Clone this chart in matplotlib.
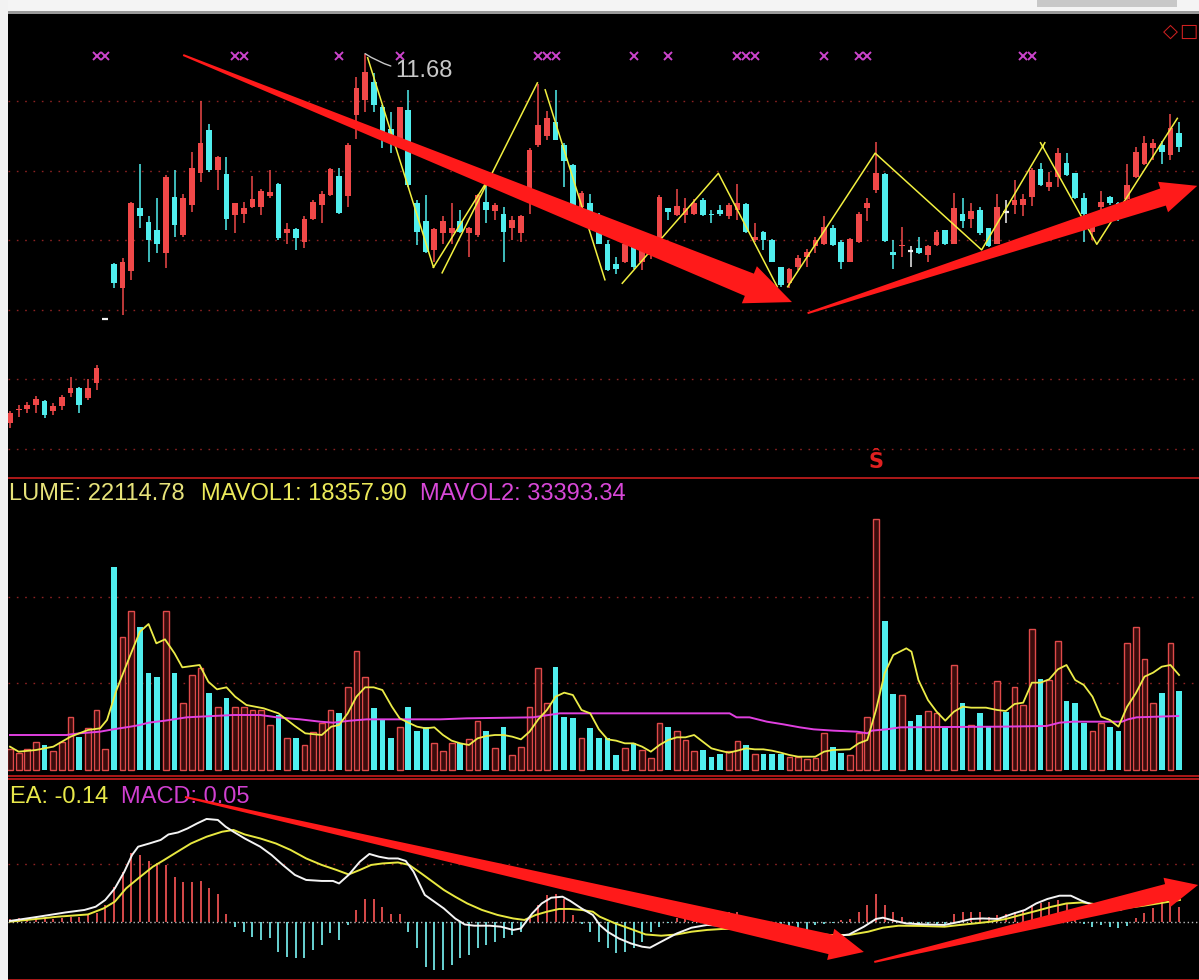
import numpy as np
import matplotlib
matplotlib.use("Agg")
import matplotlib.pyplot as plt
from matplotlib.patches import Polygon, Rectangle
from matplotlib.transforms import IdentityTransform, blended_transform_factory

W, H = 1199, 980

# ---------------- data ----------------
opens = [6.37, 6.56, 6.58, 6.63, 6.69, 6.54, 6.61, 6.80, 6.87, 6.73,
         6.94, 7.86, 8.66, 8.31, 8.55, 9.46, 9.26, 9.14, 8.81, 9.62,
         9.07, 9.50, 9.96, 10.58, 10.01, 9.95, 9.36, 9.38, 9.48, 9.48,
         9.63, 9.81, 9.10, 9.16, 8.98, 9.31, 9.50, 9.65, 9.92, 9.63,
         10.80, 11.01, 11.27, 10.91, 10.60, 10.44, 10.87, 9.54, 9.27, 8.86,
         9.10, 9.10, 9.27, 9.10, 9.07, 9.55, 9.42, 9.38, 9.17, 9.10,
         9.53, 10.37, 10.49, 10.70, 10.37, 10.08, 9.48, 9.53, 9.34, 8.94,
         8.66, 8.69, 8.91, 8.69, 8.79, 9.03, 9.46, 9.36, 9.36, 9.38,
         9.58, 9.38, 9.44, 9.34, 9.43, 9.52, 9.00, 9.12, 9.00, 8.61,
         8.38, 8.61, 8.76, 8.91, 8.95, 9.17, 8.98, 8.69, 8.98, 9.46,
         9.72, 9.95, 8.83, 8.91, 8.85, 8.88, 8.79, 8.93, 9.14, 8.95,
         9.38, 9.31, 9.43, 9.17, 8.95, 9.40, 9.50, 9.50, 9.62, 10.02,
         9.77, 9.91, 10.11, 9.96, 9.60, 9.12, 9.48, 9.62, 9.53, 9.59,
         9.91, 10.10, 10.32, 10.37, 10.22, 10.54]
highs = [6.54, 6.63, 6.68, 6.76, 6.70, 6.66, 6.77, 7.04, 6.89, 7.01,
         7.21, 7.86, 8.67, 8.74, 9.55, 10.09, 9.34, 9.60, 9.94, 10.01,
         9.67, 10.27, 11.00, 10.67, 10.21, 10.19, 9.54, 9.55, 9.92, 9.74,
         10.01, 9.82, 9.25, 9.18, 9.35, 9.58, 9.70, 10.04, 10.04, 10.39,
         11.35, 11.68, 11.40, 10.94, 10.84, 10.92, 11.16, 9.58, 9.65, 9.17,
         9.34, 9.53, 9.43, 9.19, 9.67, 9.79, 9.54, 9.48, 9.34, 9.36,
         10.32, 11.25, 10.85, 11.16, 10.39, 10.10, 9.70, 9.66, 9.39, 9.00,
         8.76, 8.98, 8.92, 8.87, 8.91, 9.65, 9.46, 9.74, 9.60, 9.59,
         9.60, 9.43, 9.50, 9.53, 9.81, 9.53, 9.24, 9.13, 9.02, 8.62,
         8.60, 8.79, 8.87, 9.05, 9.35, 9.22, 9.00, 9.03, 9.41, 9.60,
         10.41, 9.96, 9.00, 9.19, 8.91, 9.05, 8.93, 9.14, 9.15, 9.68,
         9.60, 9.54, 9.48, 9.18, 9.66, 9.57, 9.86, 9.66, 10.03, 10.11,
         9.98, 10.32, 10.25, 9.97, 9.68, 9.27, 9.70, 9.63, 9.55, 10.09,
         10.34, 10.49, 10.46, 10.43, 10.81, 10.70]
lows = [6.30, 6.46, 6.51, 6.51, 6.44, 6.49, 6.56, 6.75, 6.51, 6.70,
        6.85, 7.86, 8.31, 7.92, 8.43, 9.17, 8.69, 8.81, 8.60, 9.05,
        9.05, 9.41, 9.84, 9.98, 9.72, 9.15, 9.10, 9.24, 9.46, 9.36,
        9.60, 9.00, 8.95, 8.86, 8.88, 9.29, 9.24, 9.63, 9.38, 9.48,
        10.45, 10.84, 10.84, 10.32, 10.25, 10.34, 9.77, 8.93, 8.81, 8.69,
        8.95, 8.95, 9.10, 8.76, 9.05, 9.24, 9.29, 8.69, 9.00, 8.98,
        9.38, 10.34, 10.44, 10.44, 9.77, 9.46, 9.43, 9.35, 8.94, 8.55,
        8.52, 8.67, 8.59, 8.57, 8.73, 9.00, 9.29, 9.34, 9.24, 9.36,
        9.35, 9.24, 9.34, 9.31, 9.29, 9.10, 8.98, 8.86, 8.68, 8.33,
        8.31, 8.57, 8.62, 8.81, 8.93, 8.91, 8.59, 8.68, 8.96, 9.27,
        9.68, 8.98, 8.59, 8.76, 8.62, 8.80, 8.69, 8.91, 8.93, 8.94,
        9.17, 9.17, 9.08, 8.90, 8.94, 9.24, 9.38, 9.34, 9.49, 9.78,
        9.70, 9.77, 9.92, 9.59, 8.98, 9.00, 9.43, 9.50, 9.27, 9.58,
        9.89, 10.08, 10.15, 10.09, 10.15, 10.27]
closes = [6.52, 6.58, 6.63, 6.72, 6.49, 6.61, 6.75, 6.87, 6.63, 6.87,
          7.16, 7.86, 8.38, 8.69, 9.54, 9.34, 9.00, 8.95, 9.91, 9.22,
          9.60, 10.03, 10.40, 10.01, 10.19, 9.31, 9.53, 9.46, 9.59, 9.70,
          9.69, 9.03, 9.16, 9.03, 9.31, 9.55, 9.67, 10.02, 9.39, 10.37,
          11.18, 11.42, 10.94, 10.54, 10.40, 10.91, 9.79, 9.11, 8.83, 9.16,
          9.27, 9.17, 9.12, 9.17, 9.65, 9.43, 9.50, 9.12, 9.29, 9.35,
          10.29, 10.65, 10.75, 10.44, 10.13, 9.48, 9.68, 9.36, 8.95, 8.57,
          8.59, 8.95, 8.62, 8.86, 8.88, 9.62, 9.41, 9.49, 9.46, 9.54,
          9.36, 9.36, 9.38, 9.50, 9.54, 9.11, 9.05, 9.00, 8.69, 8.36,
          8.59, 8.74, 8.83, 9.00, 9.19, 8.93, 8.69, 9.01, 9.38, 9.53,
          9.96, 8.99, 8.79, 8.93, 8.85, 8.81, 8.91, 9.12, 8.94, 9.46,
          9.27, 9.42, 9.10, 8.91, 9.48, 9.40, 9.58, 9.59, 10.01, 9.79,
          9.84, 10.25, 9.94, 9.60, 9.38, 9.22, 9.55, 9.53, 9.48, 9.79,
          10.27, 10.39, 10.39, 10.27, 10.61, 10.34]
volumes = [12400, 10000, 12400, 17000, 15000, 11600, 17000, 32000, 20000, 25000,
           36000, 12400, 122000, 80000, 95600, 86000, 58400, 56000, 95600, 58400,
           40400, 57000, 61000, 46400, 38000, 43000, 38000, 38000, 36000, 36000,
           27000, 33000, 19000, 19000, 15000, 23000, 28000, 36000, 34400, 50000,
           71600, 56000, 37000, 30000, 19000, 26000, 38000, 23600, 25600, 16000,
           11600, 16000, 16000, 18400, 29600, 23600, 13000, 26000, 9000, 14000,
           38000, 61000, 40400, 62000, 32000, 31000, 19000, 25000, 19000, 19000,
           9000, 13000, 16000, 12000, 7000, 28400, 26000, 23600, 18000, 11600,
           12000, 8000, 9600, 11600, 17600, 15000, 9600, 9600, 9600, 9600,
           8000, 8000, 6400, 7000, 22000, 14000, 10400, 9000, 22000, 31600,
           150600, 89600, 45400, 45000, 29600, 33000, 35600, 34000, 25000, 63000,
           40400, 27000, 34400, 26000, 53400, 35000, 50000, 39000, 84600, 54400,
           54000, 77400, 41600, 40400, 28400, 23600, 28400, 26000, 23600, 76000,
           86000, 66600, 40400, 46400, 76000, 47600]

# ZIG legs (bar position, price); NaN separates legs
zig_pos = [41.3, 48.9, np.nan, 48.9, 55.4, np.nan, 49.9, 60.9, np.nan, 61.8, 68.7, np.nan,
           70.7, 81.8, 88.6, np.nan, 89.8, 99.9, 112.2, 119.5, np.nan, 119.0, 125.5, 134.8]
zig_val = [11.62, 8.61, np.nan, 8.61, 9.91, np.nan, 8.53, 11.26, np.nan, 11.16, 8.43, np.nan,
           8.38, 9.96, 8.33, np.nan, 8.33, 10.25, 8.86, 10.40, np.nan, 10.40, 8.94, 10.75]

signal_bars = [10, 11, 26, 27, 38, 45, 61, 62, 63, 72, 76, 84, 85, 86, 94, 98, 99, 117, 118]
s_bar = 100

mavol1_pos = [0, 1, 3, 5, 7, 9, 10.4, 11.2, 12.3, 13.9, 15, 16, 16.9, 17.9, 19, 19.9, 21.9, 22.9,
              23.9, 25, 26, 27.3, 29.3, 31, 32.9, 34.1, 36, 37.1, 38, 39, 40, 41, 42, 43, 44.1, 45,
              46, 47, 48, 49, 50, 51, 52, 53, 54, 55, 56, 57, 58, 59, 60, 61, 62, 63, 64, 65, 66,
              67, 68, 69, 70, 71, 72, 73, 74, 75, 76, 77, 78, 79, 80, 81, 82, 83, 84, 85, 86, 87,
              88, 89, 90, 91, 93, 94, 95, 97, 98, 99, 100, 101, 102, 103.5, 104.1, 104.9, 106, 107,
              108, 109, 110, 111, 112.7, 114, 115, 116, 117, 118, 119, 120, 121, 122, 123, 124,
              125, 126, 127, 128, 129, 130, 131, 132, 133, 134, 135]
mavol1_val = [14000, 11000, 12000, 14000, 20000, 24000, 25000, 30000, 48000, 69000, 83000, 87600,
              76000, 78400, 70000, 61600, 63000, 53000, 48400, 49600, 44000, 39000, 37000, 34000,
              26400, 22000, 21000, 26000, 27000, 34000, 44000, 49600, 49600, 48000, 38000, 31000,
              28400, 26000, 25000, 25600, 21000, 17600, 16000, 15000, 19000, 20400, 21000, 21000,
              20000, 18400, 23000, 30400, 36000, 44000, 46400, 45000, 36000, 34000, 24400, 18400,
              17600, 16000, 16000, 14000, 11000, 15000, 18000, 19600, 19600, 21000, 17000, 13000,
              11600, 10400, 11600, 13000, 12400, 12400, 11600, 10400, 9000, 8000, 8000, 11000,
              12000, 12400, 16000, 18000, 36000, 58000, 69000, 73000, 71000, 54000, 42000, 35000,
              29600, 35000, 38000, 37400, 37400, 36000, 35400, 39600, 40400, 52400, 52400, 54400,
              60400, 63000, 54000, 51000, 44000, 32000, 30000, 26000, 38000, 46000, 56000, 58400,
              62000, 63000, 57000]
mavol2_pos = [0, 6.5, 8, 10.4, 11.9, 13.9, 15, 16, 17.9, 20.4, 21.9, 25.8, 28.9, 30.8, 33.5, 35.8,
              37.3, 39.3, 41.2, 45, 49.7, 52.7, 60.4, 63.5, 68.1, 83.1, 83.9, 85.4, 87.4, 89.3,
              91.2, 92.8, 95.1, 97.8, 99, 99.5, 101.2, 102.8, 114.3, 119.7, 121.2, 122.8, 128.4,
              129.1, 130.1, 134.9]
mavol2_val = [21000, 21000, 22000, 23000, 24400, 26000, 27000, 28400, 29600, 31600, 32000, 33000,
              33000, 31600, 30400, 29000, 28400, 29600, 30400, 30400, 30400, 31000, 31600, 34000,
              34000, 34000, 31600, 31600, 29000, 27400, 25600, 24400, 23600, 23000, 22000, 23600,
              24400, 25600, 26000, 26400, 28400, 29000, 29000, 30400, 31600, 32400]

dif_pos = [0, 3.3, 6.4, 8.6, 9.9, 11, 12.1, 13.2, 14.1, 14.8, 16.1, 17.4, 18.3, 19.4, 20.5, 21.6,
           22.7, 24, 24.9, 25.8, 27.1, 28.9, 30.2, 31.5, 32.9, 34.2, 36, 37.3, 38, 39.1, 40.4,
           41.5, 42.6, 43.7, 44.8, 45.7, 46.6, 47.9, 49, 50.1, 51.4, 52.5, 53.6, 55.4, 56.7,
           58.1, 59, 60.3, 61.4, 62.5, 63.8, 64.7, 66, 67.3, 68.1, 69, 70.3, 71.7, 73, 73.9,
           75.2, 77, 78.7, 80.5, 82.3, 85.8, 90.2, 94.9, 96.9, 98.6, 100, 100.8, 102.2, 103.5,
           105.7, 107.9, 109.7, 111, 112.3, 114.1, 115.9, 117.2, 118.5, 119.8, 121.2, 122.5,
           123.8, 125.1, 126.5, 128.2, 129.1, 130.9, 132.6, 135.1]
dif_val = [0.003, 0.02, 0.037, 0.047, 0.06, 0.087, 0.133, 0.20, 0.267, 0.30, 0.313, 0.327, 0.349,
           0.357, 0.373, 0.393, 0.411, 0.407, 0.38, 0.36, 0.333, 0.30, 0.267, 0.227, 0.187,
           0.167, 0.163, 0.163, 0.153, 0.187, 0.24, 0.271, 0.26, 0.253, 0.253, 0.243, 0.20,
           0.107, 0.08, 0.053, 0.013, -0.011, -0.016, -0.016, -0.02, -0.033, -0.027, 0.033,
           0.073, 0.096, 0.10, 0.083, 0.053, 0.027, -0.013, -0.04, -0.067, -0.087, -0.10,
           -0.104, -0.08, -0.047, -0.024, -0.013, -0.016, -0.029, -0.051, -0.06, -0.051,
           -0.02, 0.011, 0.016, 0.003, -0.007, -0.011, -0.013, 0.0, 0.011, 0.013, 0.011,
           0.033, 0.047, 0.073, 0.091, 0.104, 0.104, 0.083, 0.067, 0.056, 0.047, 0.06, 0.08,
           0.095, 0.115]
dea_pos = [0, 5.5, 9, 10.8, 12.1, 13.4, 14.8, 16.5, 17.8, 19.2, 20.9, 22.7, 24.5, 25.8, 27.1,
           28.9, 30.7, 32.4, 34.2, 36, 37.7, 39.1, 40.4, 41.7, 43, 44.8, 46.1, 47.5, 48.8, 50.1,
           51.4, 52.8, 54.5, 56.3, 58.1, 59.4, 60.7, 62, 63.4, 64.7, 66, 67.3, 68.1, 69.9, 71.7,
           73.4, 75.2, 77, 78.7, 80.5, 82.3, 85.8, 90.2, 94.6, 96.9, 99.1, 100.8, 102.6, 105.2,
           107.9, 109.7, 111.4, 113.2, 115, 116.7, 118.5, 120.3, 122, 123.8, 125.6, 127.3,
           129.1, 130.9, 132.6, 135.1]
dea_val = [0.0, 0.02, 0.029, 0.053, 0.08, 0.133, 0.173, 0.22, 0.247, 0.277, 0.313, 0.34, 0.36,
           0.367, 0.349, 0.333, 0.313, 0.287, 0.253, 0.227, 0.207, 0.189, 0.207, 0.227, 0.233,
           0.237, 0.227, 0.193, 0.16, 0.127, 0.10, 0.073, 0.047, 0.027, 0.013, 0.007, 0.027,
           0.04, 0.051, 0.051, 0.047, 0.04, 0.02, -0.007, -0.029, -0.051, -0.056, -0.051, -0.04,
           -0.033, -0.029, -0.029, -0.04, -0.053, -0.053, -0.04, -0.024, -0.016, -0.017, -0.02,
           -0.013, -0.007, 0.0, 0.011, 0.027, 0.043, 0.06, 0.073, 0.077, 0.069, 0.053, 0.056,
           0.064, 0.073, 0.087]
macd_hist = [0.01, 0.015, 0.015, 0.02, 0.015, 0.01, 0.015, 0.02, 0.02, 0.025,
             0.033, 0.067, 0.14, 0.20, 0.273, 0.267, 0.243, 0.233, 0.227, 0.18,
             0.16, 0.157, 0.163, 0.133, 0.109, 0.029, -0.02, -0.04, -0.06, -0.073,
             -0.067, -0.12, -0.14, -0.147, -0.147, -0.113, -0.093, -0.047, -0.073, -0.013,
             0.047, 0.091, 0.091, 0.06, 0.029, 0.029, -0.04, -0.107, -0.18, -0.193,
             -0.193, -0.173, -0.147, -0.133, -0.107, -0.093, -0.08, -0.067, -0.053, -0.04,
             0.02, 0.067, 0.107, 0.109, 0.091, 0.027, -0.01, -0.04, -0.08, -0.107,
             -0.127, -0.12, -0.107, -0.08, -0.04, -0.02, -0.005, 0.013, 0.01, 0.005,
             0.005, -0.005, 0.01, 0.04, 0.04, 0.02, -0.005, -0.013, -0.02, -0.027,
             -0.033, -0.04, -0.04, -0.013, -0.01, -0.005, 0.005, 0.01, 0.037, 0.067,
             0.109, 0.067, 0.037, 0.02, -0.008, -0.01, -0.01, -0.01, -0.008, 0.029,
             0.037, 0.04, 0.037, 0.02, 0.027, 0.029, 0.04, 0.047, 0.067, 0.073,
             0.08, 0.087, 0.073, 0.02, -0.01, -0.02, -0.013, -0.02, -0.027, -0.016,
             0.013, 0.033, 0.056, 0.073, 0.08, 0.06]

peak_label = "11.68"
vol_label = "LUME: 22114.78"
mavol1_label = "MAVOL1: 18357.90"
mavol2_label = "MAVOL2: 33393.34"
dea_label = "EA: -0.14"
macd_label = "MACD: 0.05"

# ---------------- styling ----------------
BG = "black"
RED = "#f04848"
CYAN = "#50eeee"
GRID = "#8c2222"
SEP = "#a81818"
FONT = "Liberation Sans"

fig = plt.figure(figsize=(W / 100, H / 100), dpi=100, facecolor=BG)


def add_ax(top, bottom):
    ax = fig.add_axes([8 / W, 1 - bottom / H, (W - 8) / W, (bottom - top) / H])
    ax.set_facecolor(BG)
    for s in ax.spines.values():
        s.set_visible(False)
    ax.tick_params(left=False, bottom=False, labelleft=False, labelbottom=False)
    ax.set_xticks([])
    ax.set_xlim(-0.23, 137.3)
    ax.set_axisbelow(True)
    return ax


ax_p = add_ax(12, 478)
ax_v = add_ax(479, 776)
ax_m = add_ax(779, 980)

n = len(closes)
idx = np.arange(n)
o = np.array(opens); c = np.array(closes); hi = np.array(highs); lo = np.array(lows)
vol = np.array(volumes)

up = c > o
down = c < o
doji = c == o
prev_c = np.r_[c[0], c[:-1]]
vol_up = up | (doji & (c >= prev_c))

# ---- price panel ----
ax_p.set_ylim(5.582, 12.278)
ax_p.set_yticks([6, 7, 8, 9, 10, 11])
ax_p.yaxis.grid(True, color=GRID, lw=1.0, linestyle=(0, (1.2, 4.8)))

wick_cols = np.where(up, RED, np.where(down, CYAN, "#f0f0f0"))
ax_p.vlines(idx, lo, hi, colors=list(wick_cols), lw=1.1, zorder=2)
bw = 0.66
ax_p.bar(idx[up], (c - o)[up], bottom=o[up], width=bw, color=RED, lw=0, zorder=3)
ax_p.bar(idx[down], (o - c)[down], bottom=c[down], width=bw, color=CYAN, lw=0, zorder=3)
ax_p.hlines(c[doji], idx[doji] - bw / 2, idx[doji] + bw / 2, colors="#f0f0f0", lw=1.6, zorder=3)

ax_p.plot(zig_pos, zig_val, color="#f2f040", lw=1.1, zorder=4)

trans_top = blended_transform_factory(ax_p.transData, ax_p.transAxes)
ax_p.plot(signal_bars, [0.9056] * len(signal_bars), ls="none", marker="x", ms=5.5,
          mew=1.4, color="#cc44cc", transform=trans_top, zorder=4)
ax_p.text(s_bar, 0.034, "Ŝ", color="#e02020", fontsize=15, fontweight="bold",
          ha="center", va="center", transform=trans_top, family="DejaVu Sans")

pk = int(np.argmax(hi))
ax_p.annotate(peak_label, xy=(pk, hi[pk]), xytext=(21.5, -12.5), textcoords="offset points",
              color="#c8c8c8", fontsize=17, family=FONT, ha="left", va="center",
              arrowprops=dict(arrowstyle="-", color="#c8c8c8", lw=1.0,
                              connectionstyle="arc3,rad=-0.15", shrinkA=1, shrinkB=0),
              zorder=6)

# ---- volume panel ----
ax_v.set_ylim(-3600, 174600)
ax_v.set_yticks([52400, 103600])
ax_v.yaxis.grid(True, color=GRID, lw=1.0, linestyle=(0, (1.2, 4.8)))
ax_v.bar(idx[vol_up], vol[vol_up], width=0.66, facecolor="#3a0c0c", edgecolor="#e04a4a",
         lw=1.0, zorder=2)
ax_v.bar(idx[~vol_up], vol[~vol_up], width=0.66, color=CYAN, lw=0, zorder=2)
ax_v.plot(mavol2_pos, mavol2_val, color="#e040e0", lw=1.4, zorder=3)
ax_v.plot(mavol1_pos, mavol1_val, color="#ecec48", lw=1.3, zorder=4)

# ---- MACD panel ----
ax_m.set_ylim(-0.2332, 0.5708)
ax_m.set_yticks([0.23])
ax_m.yaxis.grid(True, color=GRID, lw=1.0, linestyle=(0, (1.2, 4.8)))
ax_m.axhline(0, color="#b8b8b8", lw=1.0, linestyle=(0, (1, 2)), zorder=1)
h = np.array(macd_hist)
ax_m.vlines(idx[h >= 0], 0, h[h >= 0], colors="#e85050", lw=1.3, zorder=2)
ax_m.vlines(idx[h < 0], 0, h[h < 0], colors="#72e4e4", lw=1.3, zorder=2)
ax_m.plot(dea_pos, dea_val, color="#e8e840", lw=1.4, zorder=3)
ax_m.plot(dif_pos, dif_val, color="#f4f4f4", lw=1.4, zorder=4)


# ---------------- figure-level decorations ----------------
def px_rect(x, y, w, hgt, color, z):
    fig.add_artist(Rectangle((x, H - y - hgt), w, hgt, transform=IdentityTransform(),
                             facecolor=color, edgecolor="none", zorder=z))


def px_text(x, y, s, color, ha="left", size=17, family=FONT, z=4):
    fig.text(x / W, 1 - y / H, s, color=color, ha=ha, va="center", fontsize=size,
             family=family, zorder=z)


def tapered_arrow(ax, tail, tip, w_tail, w_neck, head_w, head_len):
    p0 = ax.transData.transform(tail)
    p1 = ax.transData.transform(tip)
    d = p1 - p0
    u = d / np.hypot(*d)
    nrm = np.array([-u[1], u[0]])
    neck = p1 - u * head_len
    pts = [p0 + nrm * w_tail / 2, neck + nrm * w_neck / 2, neck + nrm * head_w / 2, p1,
           neck - nrm * head_w / 2, neck - nrm * w_neck / 2, p0 - nrm * w_tail / 2]
    fig.add_artist(Polygon(pts, closed=True, transform=IdentityTransform(),
                           facecolor="#ff1a1a", edgecolor="none", zorder=5))


# separators
px_rect(0, 477.2, W, 1.6, SEP, 3)
px_rect(0, 775.2, W, 1.6, SEP, 3)
px_rect(0, 778.4, W, 1.4, SEP, 3)
px_rect(0, 978.6, W, 1.4, SEP, 3)

# headers
px_text(9, 494, vol_label, "#e6e27a")
px_text(201, 494, mavol1_label, "#ecea5a")
px_text(420, 494, mavol2_label, "#d848d8")
px_text(10, 797, dea_label, "#e8e84a")
px_text(121, 797, macd_label, "#d040d0")

# big red annotation arrows
tapered_arrow(ax_p, (20.0, 11.66), (90.3, 8.11), 2, 24, 40, 46)
tapered_arrow(ax_p, (92.1, 7.95), (137.1, 9.78), 2, 18, 32, 36)
tapered_arrow(ax_m, (20.2, 0.499), (98.6, -0.121), 2, 20, 32, 34)
tapered_arrow(ax_m, (99.8, -0.161), (137.2, 0.147), 2, 17, 30, 32)

# top-right icons
px_text(1170, 31, "◇", "#d02020", ha="center", size=14, family="DejaVu Sans", z=6)
px_text(1188, 31, "□", "#d02020", ha="center", size=14, family="DejaVu Sans", z=6)

# window chrome: top strip and left strip
px_rect(0, 0, W, 11, "#f4f4f4", 10)
px_rect(1037, 0, 140, 7, "#c8c8c8", 10)
px_rect(0, 11, W, 2.5, "#9a9a9a", 10)
px_rect(0, 0, 8, H, "#f2f2f2", 10)

fig.savefig("out.png", dpi=100, facecolor=BG)
